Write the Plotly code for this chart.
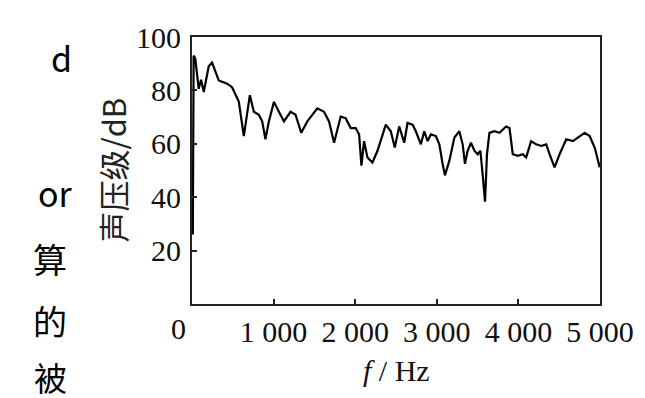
import plotly.graph_objects as go

freq_hz = [10, 20, 40, 82, 111, 144, 205, 246, 328, 430, 491, 574, 635, 676, 709, 758,
           819, 860, 900, 942, 1004, 1065, 1127, 1208, 1269, 1339, 1413, 1536, 1618,
           1679, 1741, 1822, 1883, 1945, 2006, 2048, 2076, 2109, 2150, 2211, 2273,
           2375, 2436, 2485, 2539, 2601, 2641, 2703, 2743, 2805, 2846, 2887, 2928,
           2989, 3031, 3071, 3100, 3154, 3215, 3276, 3317, 3345, 3378, 3419, 3461,
           3501, 3534, 3563, 3591, 3615, 3645, 3706, 3768, 3849, 3891, 3931, 3993,
           4054, 4095, 4156, 4218, 4279, 4341, 4382, 4443, 4505, 4586, 4668, 4730,
           4812, 4873, 4935, 4996]
spl_db = [26, 93, 92, 80.6, 84, 79.4, 89, 90.4, 83.7, 82.5, 81.2, 75.7, 62.9, 72, 78.2, 72,
          70.9, 68.4, 61.7, 68.4, 75.7, 72, 68.4, 72, 70.9, 64.1, 68.4, 73.3, 72,
          68.4, 60.4, 70.2, 69.6, 65.9, 65.9, 63.5, 51.8, 61, 54.9, 53, 57.4,
          67.2, 64.7, 58.6, 66.5, 60.4, 67.8, 67.2, 64.7, 59.8, 64.7, 61, 63.5,
          62.9, 59.8, 52.5, 48.2, 53.7, 62.3, 64.7, 59.8, 52.5, 57.4, 60.4, 57.4,
          56.1, 57.4, 48.2, 38.3, 56.1, 64.1, 64.7, 64.1, 66.5, 65.9, 56.1, 55.5,
          56.1, 54.9, 61, 59.8, 59.2, 59.8, 56.1, 51.2, 56.1, 61.7, 61, 62.3,
          64.1, 62.9, 58.6, 51.2]

x_tick_vals = [1000, 2000, 3000, 4000, 5000]
x_tick_text = ["1 000", "2 000", "3 000", "4 000", "5 000"]
y_tick_vals = [20, 40, 60, 80, 100]
y_tick_text = ["20", "40", "60", "80", "100"]

side_text = ["d", "or", "算", "的"]
side_y_px = [45, 182, 250, 313]
side_x_px = [53, 47, 42, 42]
last_side_text = "被"

W, H = 645, 398
L, R, T, B = 184, 592, 24, 296

def px(x):
    return (x - L) / (R - L)

def py(y):
    return (B - y) / (B - T)

serif = "Liberation Serif, Times New Roman, serif"
cjk = "Noto Sans CJK SC, Noto Sans, sans-serif"

fig = go.Figure()
fig.add_trace(go.Scatter(x=freq_hz, y=spl_db, mode="lines",
                         line=dict(color="black", width=2.2), showlegend=False,
                         hoverinfo="skip"))

fig.update_layout(
    width=W, height=H,
    margin=dict(l=L, r=W - R, t=T, b=H - B),
    paper_bgcolor="white", plot_bgcolor="white",
    font=dict(family=serif, color="#111", size=30),
    xaxis=dict(range=[0, 5000], tickvals=x_tick_vals, ticktext=x_tick_text,
               ticks="inside", ticklen=5, tickwidth=1.5, tickcolor="#222",
               showline=True, linecolor="#222", linewidth=2, mirror=True,
               showgrid=False, zeroline=False, ticklabelstandoff=0,
               tickfont=dict(family=serif, size=30, color="#111")),
    yaxis=dict(range=[0, 100], tickvals=y_tick_vals, ticktext=y_tick_text,
               ticks="inside", ticklen=5, tickwidth=1.5, tickcolor="#222",
               showline=True, linecolor="#222", linewidth=2, mirror=True,
               showgrid=False, zeroline=False, ticklabelstandoff=3,
               tickfont=dict(family=serif, size=30, color="#111")),
)

annotations = [
    dict(text="0", x=px(170), y=py(321), xref="paper", yref="paper",
         showarrow=False, xanchor="center", yanchor="middle",
         font=dict(family=serif, size=30, color="#111")),
    dict(text="<i>f</i> / Hz", x=px(388), y=py(364), xref="paper", yref="paper",
         showarrow=False, xanchor="center", yanchor="middle",
         font=dict(family=serif, size=30, color="#111")),
    dict(text="声压级/dB", x=px(104), y=py(160), xref="paper", yref="paper",
         showarrow=False, xanchor="center", yanchor="middle", textangle=-90,
         font=dict(family="Noto Sans CJK SC, Liberation Serif, serif", size=31, color="#222")),
]
for t, xx, yy in zip(side_text, side_x_px, side_y_px):
    annotations.append(dict(text=t, x=px(xx), y=py(yy), xref="paper", yref="paper",
                            showarrow=False, xanchor="center", yanchor="middle",
                            font=dict(family=cjk, size=34, color="black")))
annotations.append(dict(text=last_side_text, x=px(42), y=py(397), xref="paper", yref="paper",
                        showarrow=False, xanchor="center", yanchor="bottom",
                        font=dict(family=cjk, size=33, color="black")))
fig.update_layout(annotations=annotations)

fig.write_html("out.html")
